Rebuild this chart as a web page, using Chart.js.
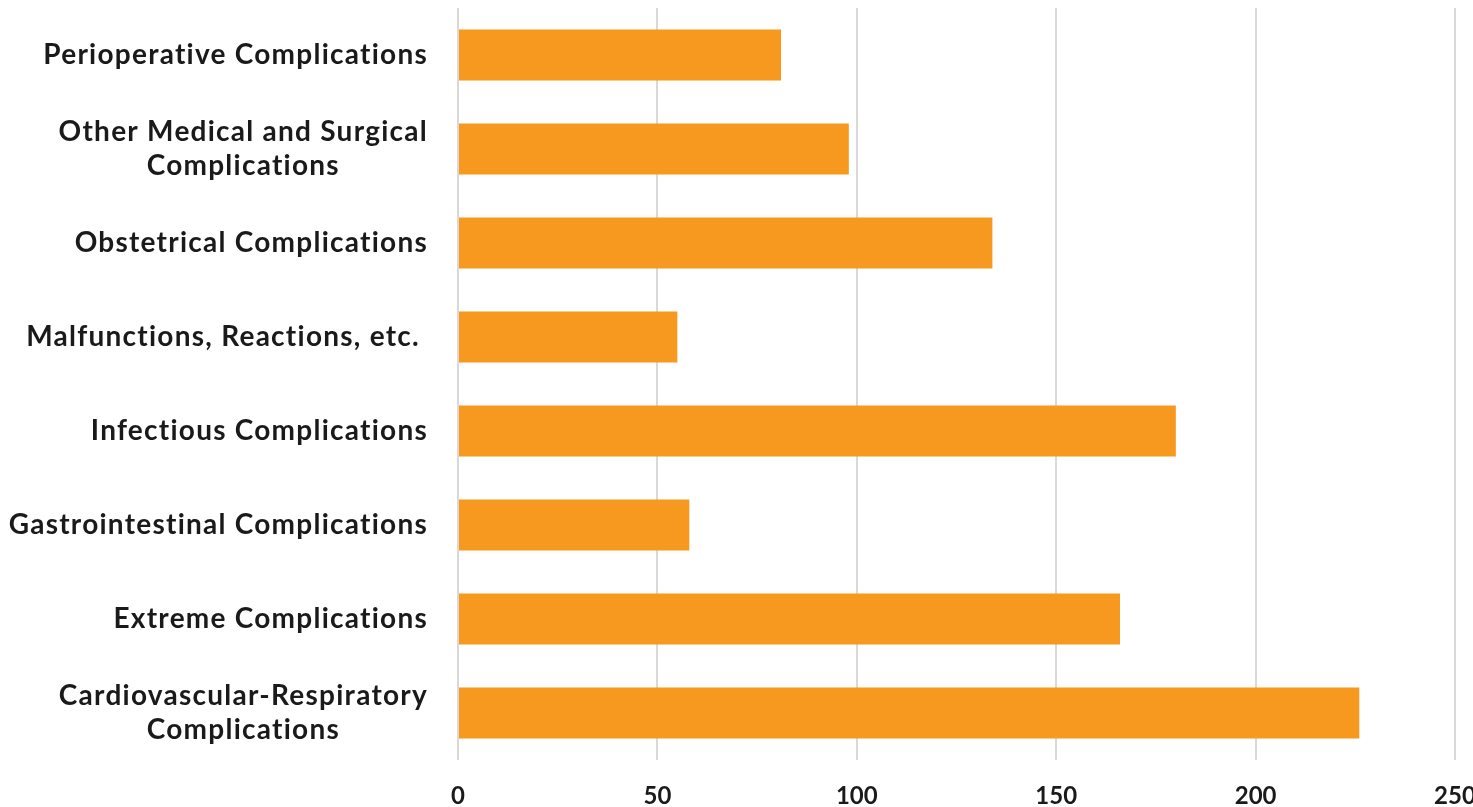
<!DOCTYPE html>
<html>
<head>
<meta charset="utf-8">
<script src="https://cdn.jsdelivr.net/npm/chart.js@4"></script>
<style>
  html, body { margin: 0; padding: 0; background: #ffffff; }
  #wrap { width: 1473px; height: 807px; position: relative; }
</style>
</head>
<body>
<div id="wrap"><canvas id="chart"></canvas></div>
<script>
// Complication categories, top to bottom; multi-line names are arrays of lines
const categories = [
  ["Perioperative Complications"],
  ["Other Medical and Surgical", "Complications"],
  ["Obstetrical Complications"],
  ["Malfunctions, Reactions, etc. "],
  ["Infectious Complications"],
  ["Gastrointestinal Complications"],
  ["Extreme Complications"],
  ["Cardiovascular-Respiratory", "Complications"]
];
const counts = [81, 98, 134, 55, 180, 58, 166, 226];
const xTicks = [0, 50, 100, 150, 200, 250];

const FONT = "Lato, 'Open Sans', sans-serif";
const LABEL_SIZE = 28;
const LABEL_LINE = 34;
const LABEL_RIGHT = 428;

// Category names drawn beside the bars, each block centred on its widest line
const categoryLabels = {
  id: 'categoryLabels',
  afterDraw(chart) {
    const ctx = chart.ctx;
    const y = chart.scales.y;
    ctx.save();
    ctx.font = `bold ${LABEL_SIZE}px ${FONT}`;
    ctx.letterSpacing = '1.25px';
    ctx.fillStyle = '#1a1a1a';
    ctx.textAlign = 'center';
    ctx.textBaseline = 'middle';
    categories.forEach((lines, i) => {
      const cy = y.getPixelForValue(i);
      const w = Math.max(...lines.map(l => ctx.measureText(l).width));
      const cx = LABEL_RIGHT - w / 2;
      const top = cy - (lines.length - 1) * LABEL_LINE / 2;
      lines.forEach((l, k) => ctx.fillText(l, cx, top + k * LABEL_LINE));
    });
    ctx.restore();
  }
};

new Chart(document.getElementById('chart'), {
  type: 'bar',
  data: {
    labels: categories.map(c => c.join(' ')),
    datasets: [{
      data: counts,
      backgroundColor: '#F7981F',
      borderWidth: 0,
      categoryPercentage: 1.0,
      barPercentage: 0.545
    }]
  },
  options: {
    indexAxis: 'y',
    responsive: true,
    maintainAspectRatio: false,
    animation: false,
    layout: { padding: { top: 8, left: 0, right: 0, bottom: 0 } },
    plugins: {
      legend: { display: false },
      tooltip: { enabled: false }
    },
    scales: {
      x: {
        min: 0,
        max: 250,
        afterBuildTicks(scale) { scale.ticks = xTicks.map(v => ({ value: v })); },
        afterFit(scale) { scale.height = 47; scale.paddingRight = 18; scale.paddingLeft = 0; },
        border: { display: false },
        grid: { color: '#d9d9d9', lineWidth: 2, tickLength: 0, drawTicks: false },
        ticks: {
          padding: 22,
          color: '#1a1a1a',
          font: { family: FONT, size: 24, weight: 'bold' },
          maxRotation: 0
        }
      },
      y: {
        afterFit(scale) { scale.width = 458; },
        border: { display: false },
        grid: { display: false },
        ticks: { display: false }
      }
    }
  },
  plugins: [categoryLabels]
});
</script>
</body>
</html>
